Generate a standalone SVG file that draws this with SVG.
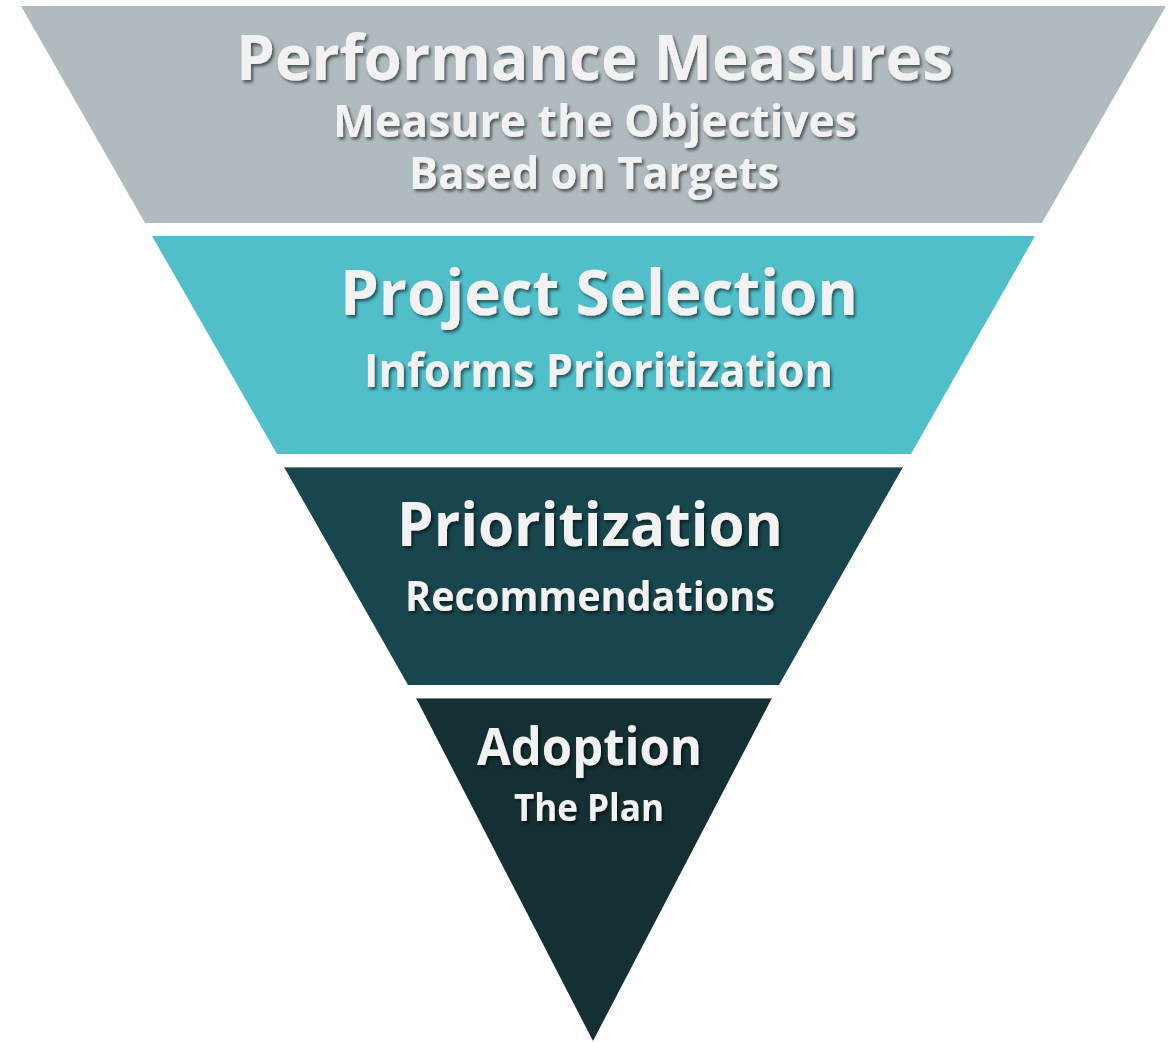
<svg xmlns="http://www.w3.org/2000/svg" width="1175" height="1042" viewBox="0 0 1175 1042">
  <defs>
    <filter id="shadow" x="-10%" y="-30%" width="120%" height="160%">
      <feDropShadow dx="2" dy="2.5" stdDeviation="1.6" flood-color="#000000" flood-opacity="0.55"/>
    </filter>
    <style>
      .lbl { font-family: "Open Sans", "Liberation Sans", sans-serif; font-weight: 700; fill: #F2F2F2; text-anchor: middle; filter: url(#shadow); }
      .edge { stroke: #6E8A90; stroke-width: 1.2; }
    </style>
  </defs>
  <rect width="1175" height="1042" fill="#FFFFFF"/>

  <g id="performance-measures">
    <polygon points="21,6 1166,6 1042,223 145,223" fill="#AFBBBF"/>
    <text class="lbl" x="594.5" y="80" font-size="62" textLength="717" lengthAdjust="spacingAndGlyphs">Performance Measures</text>
    <text class="lbl" x="595" y="137" font-size="45" textLength="524" lengthAdjust="spacingAndGlyphs">Measure the Objectives</text>
    <text class="lbl" x="594" y="189" font-size="45" textLength="370" lengthAdjust="spacingAndGlyphs">Based on Targets</text>
  </g>

  <g id="project-selection">
    <polygon points="152,236 1035,236 911,454 277,454" fill="#50BFCA"/>
    <text class="lbl" x="599" y="315" font-size="62" textLength="518" lengthAdjust="spacingAndGlyphs">Project Selection</text>
    <text class="lbl" x="598.5" y="387" font-size="46" textLength="469" lengthAdjust="spacingAndGlyphs">Informs Prioritization</text>
  </g>

  <g id="prioritization">
    <polygon points="284,467 903,467 779,685 408,685" fill="#18464E"/>
    <line class="edge" x1="284" y1="467.5" x2="903" y2="467.5"/>
    <text class="lbl" x="590" y="546" font-size="60" textLength="386" lengthAdjust="spacingAndGlyphs">Prioritization</text>
    <text class="lbl" x="590" y="611" font-size="41" textLength="370" lengthAdjust="spacingAndGlyphs">Recommendations</text>
  </g>

  <g id="adoption">
    <polygon points="416,698 772,698 593,1041" fill="#143034"/>
    <line class="edge" x1="416" y1="698.5" x2="772" y2="698.5"/>
    <text class="lbl" x="589.5" y="765" font-size="52" textLength="225" lengthAdjust="spacingAndGlyphs">Adoption</text>
    <text class="lbl" x="589" y="821" font-size="37" textLength="150" lengthAdjust="spacingAndGlyphs">The Plan</text>
  </g>

  <g id="connectors"/>
</svg>
